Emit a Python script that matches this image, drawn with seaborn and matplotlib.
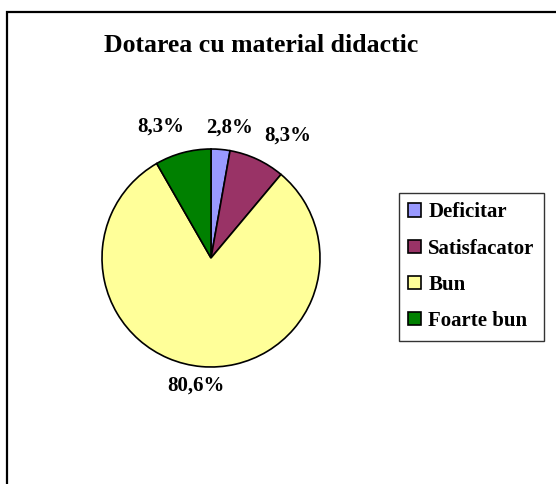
import matplotlib
matplotlib.use("Agg")
import numpy as np
import matplotlib.pyplot as plt
from matplotlib.patches import Rectangle
import seaborn as sns

categories = ["Deficitar", "Satisfacator", "Bun", "Foarte bun"]
values = [2.8, 8.3, 80.6, 8.3]
colors = ["#9999FF", "#993366", "#FFFF99", "#008000"]
title = "Dotarea cu material didactic"

sns.set_theme(style="white")
plt.rcParams["font.family"] = ["Liberation Serif", "DejaVu Serif"]
plt.rcParams["text.color"] = "black"

W, H = 556, 484
fig = plt.figure(figsize=(W / 100, H / 100), dpi=100)
fig.patch.set_facecolor("white")

# pie axes: centre (211, 258) px, radius ~109 px
cx, cy, r = 211, 258, 109
side = 2.5 * r
ax = fig.add_axes([(cx - side / 2) / W, (H - cy - side / 2) / H, side / W, side / H])

wedges, texts, autotexts = ax.pie(
    values, colors=colors, startangle=90, counterclock=False,
    autopct=lambda p: f"{p:.1f}".replace(".", ",") + "%",
    pctdistance=1.2,
    wedgeprops=dict(edgecolor="black", linewidth=1.2),
    textprops=dict(fontsize=15, fontweight="bold", color="black"),
)
# nudge labels the way the original (Excel) laid them out
label_dist = [1.21, 1.32, 1.18, 1.29]
label_dang = [-3, -7, -1.5, 6]
for w, t, d, da in zip(wedges, autotexts, label_dist, label_dang):
    a = np.deg2rad((w.theta1 + w.theta2) / 2 + da)
    t.set_position((d * np.cos(a), d * np.sin(a)))

ax.set_xlim(-1.25, 1.25)
ax.set_ylim(-1.25, 1.25)
ax.set_aspect("equal")

fig.text(261 / W, 1 - 46 / H, title, ha="center", va="center",
         fontsize=18.5, fontweight="bold", color="black")

leg = fig.legend(wedges, categories, loc="upper left",
                 bbox_to_anchor=(399 / W, 1 - 193 / H),
                 frameon=True, fancybox=False, edgecolor="black",
                 prop=dict(size=15, weight="bold"),
                 handlelength=0.6, handleheight=0.6, handletextpad=0.35,
                 labelspacing=0.78, borderpad=0.45, borderaxespad=0)
leg.get_frame().set_linewidth(1.0)
for t in leg.get_texts():
    t.set_color("black")

# outer chart border (clipped on the right and bottom)
fig.patches.append(Rectangle((7 / W, -0.05), 1.1, 1 - 12 / H + 0.05,
                             transform=fig.transFigure, fill=False,
                             edgecolor="black", linewidth=1.6))

fig.savefig("out.png", dpi=100)
